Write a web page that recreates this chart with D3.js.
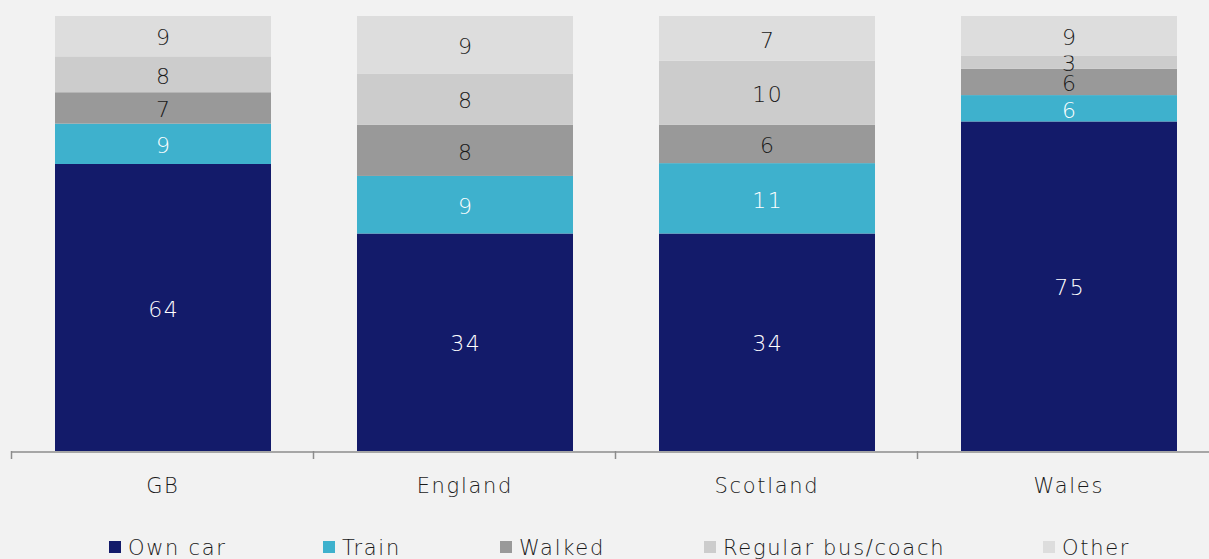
<!DOCTYPE html>
<html><head><meta charset="utf-8">
<script src="https://cdn.jsdelivr.net/npm/d3@7"></script>
<style>
html,body{margin:0;padding:0;background:#f2f2f2;}
svg{display:block;}
text{font-family:"DejaVu Sans",sans-serif;font-weight:200;letter-spacing:1.7px;}
</style></head><body>
<svg id="chart" width="1209" height="559"></svg>
<script>
const categories = ["GB","England","Scotland","Wales"];
const seriesNames = ["Own car","Train","Walked","Regular bus/coach","Other"];
const ownCar = [64,34,34,75];
const train = [9,9,11,6];
const walked = [7,8,6,6];
const bus = [8,8,10,3];
const other = [9,9,7,9];
const colors = ["#131b6a","#3eb1cd","#999999","#cccccc","#dddddd"];
const labelColors = ["#ffffff","#ffffff","#1a1a1a","#1a1a1a","#1a1a1a"];

const seriesVals = [ownCar,train,walked,bus,other];
const rows = categories.map((c,i)=>{
  const r={cat:c};
  seriesNames.forEach((s,j)=>r[s]=seriesVals[j][i]);
  return r;
});

const svg = d3.select("#chart");
const x = d3.scaleBand().domain(categories).range([11,1219]).paddingInner(0).paddingOuter(0);
const y = d3.scaleLinear().domain([0,1]).range([451,16]);
const stack = d3.stack().keys(seriesNames).offset(d3.stackOffsetExpand);
const stacked = stack(rows);
const inset = 44, bw = 216;
const ls = 1.7;

stacked.forEach((layer,j)=>{
  const g = svg.append("g");
  g.selectAll("rect").data(layer).enter().append("rect")
    .attr("x",d=>x(d.data.cat)+inset)
    .attr("width",bw)
    .attr("y",d=>y(d[1]))
    .attr("height",d=>y(d[0])-y(d[1]))
    .attr("fill",colors[j]);
  g.selectAll("text").data(layer).enter().append("text")
    .attr("x",d=>x(d.data.cat)+inset+bw/2+ls/2)
    .attr("y",d=>(y(d[0])+y(d[1]))/2)
    .attr("dy","0.42em")
    .attr("text-anchor","middle")
    .attr("font-size",22)
    .attr("fill",labelColors[j])
    .text(d=>d.data[layer.key]);
});

const axis = d3.axisBottom(x).tickSize(0).tickSizeOuter(0);
const ax = svg.append("g").attr("transform","translate(0,451.5)").call(axis);
ax.select(".domain").attr("stroke","#8c8c8c").attr("stroke-width",1.5);
ax.selectAll(".tick text").attr("font-size",21).attr("fill","#1a1a1a")
  .attr("font-family","DejaVu Sans, sans-serif").attr("font-weight",200)
  .attr("dy",0).attr("y",41).attr("x",ls/2);
// boundary ticks
const bounds = categories.map(c=>x(c)).concat([x(categories[3])+x.bandwidth()]);
svg.append("g").selectAll("line").data(bounds).enter().append("line")
  .attr("x1",d=>d+0.5).attr("x2",d=>d+0.5).attr("y1",451).attr("y2",459)
  .attr("stroke","#8c8c8c").attr("stroke-width",1.5);

// legend
const legX = [109,323,500,704,1043];
const leg = svg.append("g");
seriesNames.forEach((s,j)=>{
  leg.append("rect").attr("x",legX[j]).attr("y",541).attr("width",12).attr("height",12).attr("fill",colors[j]);
  leg.append("text").attr("x",legX[j]+19).attr("y",555).attr("font-size",21).attr("fill","#1a1a1a").text(s);
});
</script>
</body></html>
